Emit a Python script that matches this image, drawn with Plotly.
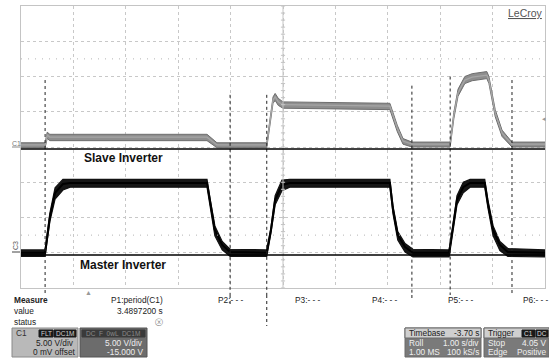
import plotly.graph_objects as go

W, H = 549, 358
# grid area in pixels
GX0, GX1, GY0, GY1 = 21, 545, 6, 288

# ---- data (time in s, voltage in V) ----
slave_t = [0.0, 0.46, 0.50, 0.55, 3.55, 3.65, 3.74, 4.69, 4.75, 4.81, 4.85, 4.91, 5.00,
           7.04, 7.18, 7.29, 7.46, 8.19, 8.26, 8.34, 8.47, 8.61, 8.89, 8.93, 9.05, 9.18, 9.37, 10.0]
slave_v = [0.3, 0.3, 1.7, 1.4, 1.4, 0.85, 0.3, 0.3, 3.8, 6.7, 7.1, 6.4, 6.0,
           5.8, 2.7, 0.85, 0.4, 0.4, 4.5, 7.7, 9.5, 9.9, 10.2, 9.5, 4.8, 2.0, 0.4, 0.4]
slave_hi = [0.6, 0.6, 2.1, 1.8, 1.8, 1.2, 0.6, 0.6, 4.2, 7.1, 7.6, 6.9, 6.4,
            6.2, 3.1, 1.2, 0.7, 0.7, 4.9, 8.2, 10.0, 10.4, 10.7, 10.0, 5.3, 2.4, 0.7, 0.7]
slave_lo = [-0.1, -0.1, 1.2, 0.9, 0.9, 0.4, -0.1, -0.1, 3.3, 6.2, 6.6, 5.9, 5.5,
            5.3, 2.2, 0.4, 0.0, 0.0, 4.0, 7.2, 9.0, 9.4, 9.7, 9.0, 4.3, 1.5, 0.0, 0.0]

master_t = [0.0, 0.46, 0.55, 0.65, 0.80, 0.94, 3.55, 3.61, 3.70, 3.84, 3.99, 4.69, 4.77, 4.85,
            4.98, 5.13, 7.04, 7.10, 7.19, 7.33, 7.48, 8.17, 8.23, 8.32, 8.44, 8.57, 8.85, 8.91,
            9.01, 9.14, 9.29, 10.0]
master_v = [0.0, 0.0, 5.0, 8.5, 9.75, 9.9, 9.9, 7.0, 3.2, 1.1, 0.1, 0.0, 3.2, 7.5,
            9.6, 9.9, 9.9, 6.1, 2.5, 0.8, 0.0, 0.0, 2.8, 7.5, 9.3, 9.9, 9.9, 7.0,
            3.2, 1.1, 0.1, 0.0]
master_hi = [0.4, 0.4, 5.6, 9.2, 10.4, 10.4, 10.4, 7.6, 3.8, 1.6, 0.5, 0.4, 3.6, 8.1,
             10.3, 10.4, 10.4, 6.6, 3.0, 1.3, 0.5, 0.4, 3.2, 8.1, 10.0, 10.4, 10.4, 7.5,
             3.8, 1.6, 0.6, 0.4]
master_lo = [-0.5, -0.5, 4.4, 7.6, 8.9, 9.3, 9.3, 6.4, 2.4, 0.4, -0.5, -0.5, 2.8, 6.8,
             8.8, 9.3, 9.3, 5.5, 1.8, 0.1, -0.6, -0.6, 2.3, 6.8, 8.5, 9.3, 9.3, 6.4,
             2.4, 0.3, -0.5, -0.6]

cursor_t = [0.46, 3.99, 4.69, 7.46, 8.19, 9.37]
cursor_top_v = [9.5, 7.4, 7.4, 8.7, 10.0, 9.5]

volts_per_div = 5.0
c1_offset = 0.0
c3_offset = -15.0

measure_labels = ["P1:period(C1)", "P2:- - -", "P3:- - -", "P4:- - -", "P5:- - -", "P6:- - -"]
measure_value = "3.4897200 s"


def px(x):
    return x / W


def py(y):
    return 1 - y / H


fig = go.Figure()

# slave (C1) noise band + centre
fig.add_trace(go.Scatter(x=slave_t, y=slave_lo, mode="lines", yaxis="y",
                         line=dict(color="#6e6e6e", width=1), hoverinfo="skip"))
fig.add_trace(go.Scatter(x=slave_t, y=slave_hi, mode="lines", yaxis="y", fill="tonexty",
                         fillcolor="#8e8e8e", line=dict(color="#6e6e6e", width=1),
                         hoverinfo="skip"))
fig.add_trace(go.Scatter(x=slave_t, y=slave_v, mode="lines", yaxis="y",
                         line=dict(color="#a6a6a6", width=1.3), hoverinfo="skip"))
# master (C3) noise band + centre
fig.add_trace(go.Scatter(x=master_t, y=master_lo, mode="lines", yaxis="y2",
                         line=dict(color="#111111", width=1.2), hoverinfo="skip"))
fig.add_trace(go.Scatter(x=master_t, y=master_hi, mode="lines", yaxis="y2", fill="tonexty",
                         fillcolor="#161616", line=dict(color="#111111", width=1.2),
                         hoverinfo="skip"))
fig.add_trace(go.Scatter(x=master_t, y=master_v, mode="lines", yaxis="y2",
                         line=dict(color="#000000", width=2), hoverinfo="skip"))

span = 4 * volts_per_div
shapes = []
# dotted marker rows
for v in (12.5, -12.5):
    shapes.append(dict(type="line", xref="x", yref="y", x0=0, x1=10, y0=v, y1=v,
                       line=dict(color="#b4b4b4", width=1, dash="1px,6px")))
# center vertical axis with ticks
shapes.append(dict(type="line", xref="x", yref="y", x0=5, x1=5, y0=-span, y1=span,
                   line=dict(color="#c4c4c4", width=1)))
for i in range(41):
    v = -span + i * 1.0
    shapes.append(dict(type="line", xref="x", yref="y", x0=4.96, x1=5.04, y0=v, y1=v,
                       line=dict(color="#c4c4c4", width=1)))
# cursors
for t, vt in zip(cursor_t, cursor_top_v):
    shapes.append(dict(type="line", xref="x", yref="paper", x0=t, x1=t,
                       y0=py(GY0 + (span - vt) / (2 * span) * (GY1 - GY0)), y1=py(295),
                       line=dict(color="#222222", width=1, dash="dot")))
# extra cursor tails into the measure area
shapes.append(dict(type="line", xref="x", yref="paper", x0=cursor_t[2], x1=cursor_t[2],
                   y0=py(295), y1=py(326), line=dict(color="#222222", width=1, dash="dot")))
shapes.append(dict(type="line", xref="x", yref="paper", x0=cursor_t[1], x1=cursor_t[1],
                   y0=py(295), y1=py(305), line=dict(color="#222222", width=1, dash="dot")))
shapes.append(dict(type="line", xref="x", yref="paper", x0=cursor_t[3], x1=cursor_t[3],
                   y0=py(295), y1=py(299), line=dict(color="#222222", width=1, dash="dot")))
# annotation baselines
shapes.append(dict(type="line", xref="paper", yref="paper", x0=px(21), x1=px(545),
                   y0=py(149), y1=py(149), line=dict(color="#000000", width=1.5)))
shapes.append(dict(type="line", xref="paper", yref="paper", x0=px(21), x1=px(545),
                   y0=py(255), y1=py(255), line=dict(color="#000000", width=1.5)))
# channel ground ticks
shapes.append(dict(type="line", xref="paper", yref="paper", x0=px(12), x1=px(20),
                   y0=py(147), y1=py(147), line=dict(color="#888888", width=1)))
shapes.append(dict(type="line", xref="paper", yref="paper", x0=px(12), x1=px(20),
                   y0=py(252), y1=py(252), line=dict(color="#444444", width=1)))


def box(x0, y0, x1, y1, fill, line="#8a8a8a"):
    shapes.append(dict(type="rect", xref="paper", yref="paper", x0=px(x0), x1=px(x1),
                       y0=py(y1), y1=py(y0), fillcolor=fill, line=dict(color=line, width=1),
                       layer="below"))


# channel boxes
box(12, 328, 78, 357, "#b9b9b9")
box(80, 328, 147, 357, "#6c6c6c", "#555555")
# badges
box(39, 330, 53, 337, "#1a1a1a", "#1a1a1a")
box(54, 330, 76, 337, "#1a1a1a", "#1a1a1a")
box(82, 330, 145, 337, "#3a3a3a", "#3a3a3a")
# timebase / trigger boxes
box(405, 328, 481, 357, "#7a7a7a", "#6a6a6a")
box(405, 328, 481, 338, "#cfcfcf", "#6a6a6a")
box(484, 328, 549, 357, "#7a7a7a", "#6a6a6a")
box(484, 328, 549, 338, "#cfcfcf", "#6a6a6a")
box(522, 330, 535, 337, "#1a1a1a", "#1a1a1a")
box(536, 330, 548, 337, "#1a1a1a", "#1a1a1a")

ann = []
FONT = "Liberation Sans, Arial, sans-serif"


def text(x, y, s, size=8.3, color="#222222", anchor="left", bold=False, angle=0):
    if bold:
        s = "<b>" + s + "</b>"
    ann.append(dict(x=px(x), y=py(y), xref="paper", yref="paper", text=s, showarrow=False,
                    xanchor=anchor, yanchor="middle", textangle=angle,
                    font=dict(family=FONT, size=size, color=color)))


text(545, 13, "<u>LeCroy</u>", size=10.5, color="#555555", anchor="right")
text(10, 143, "C1", size=7, color="#777777")
text(15, 246, "C3", size=7, color="#555555", angle=-90, anchor="center")
text(123, 158, "Slave Inverter", size=12, color="#111111", anchor="center", bold=True)
text(123, 265, "Master Inverter", size=12, color="#111111", anchor="center", bold=True)
text(88, 292, "▲", size=7, color="#999999", anchor="center")
text(548, 118, "◂", size=7, color="#999999", anchor="right")

text(12, 300, "Measure", bold=True)
meas_x = [165, 216, 293, 370, 446, 521]
for i, (lab, mx) in enumerate(zip(measure_labels, meas_x)):
    text(mx, 300, lab, anchor="right" if i == 0 else "left")
text(12, 311, "value")
text(165, 311, measure_value, anchor="right")
text(12, 322, "status")
text(159, 322, "ⓧ", size=8, color="#777777", anchor="center")

# C1 box text
text(14, 333, "C1", color="#333333")
text(46, 333.5, "FLT", size=6.5, color="#d0d0d0", anchor="center")
text(65, 333.5, "DC1M", size=6.5, color="#d0d0d0", anchor="center")
text(76, 343, "5.00 V/div", color="#222222", anchor="right")
text(78, 352, "0 mV offset", color="#222222", anchor="right")
# C3 box text
text(113, 333.5, "DC  F  0wL  DC1M", size=6.5, color="#8a8a8a", anchor="center")
text(145, 343, "5.00 V/div", color="#eeeeee", anchor="right")
text(145, 352, "-15.000 V", color="#eeeeee", anchor="right")
# Timebase
text(407, 333, "Timebase", color="#222222")
text(481, 333, "-3.70 s", color="#222222", anchor="right")
text(407, 343, "Roll", color="#f0f0f0")
text(481, 343, "1.00 s/div", color="#f0f0f0", anchor="right")
text(407, 352, "1.00 MS", color="#f0f0f0")
text(481, 352, "100 kS/s", color="#f0f0f0", anchor="right")
# Trigger
text(486, 333, "Trigger", color="#222222")
text(528.5, 333.5, "C1", size=6.5, color="#dddddd", anchor="center")
text(542, 333.5, "DC", size=6.5, color="#dddddd", anchor="center")
text(486, 343, "Stop", color="#f0f0f0")
text(548, 343, "4.05 V", color="#f0f0f0", anchor="right")
text(486, 352, "Edge", color="#f0f0f0")
text(548, 352, "Positive", color="#f0f0f0", anchor="right")

ydom = [py(GY1), py(GY0)]
fig.update_layout(
    width=W, height=H, margin=dict(l=0, r=0, t=0, b=0),
    paper_bgcolor="white", plot_bgcolor="white", showlegend=False,
    xaxis=dict(domain=[px(GX0), px(GX1)], range=[0, 10], dtick=1, showgrid=True,
               gridcolor="#c8c8c8", griddash="dot", gridwidth=1, showticklabels=False,
               ticks="", zeroline=False, showline=True, linecolor="#c4c4c4", mirror=True,
               fixedrange=True),
    yaxis=dict(domain=ydom, range=[c1_offset - span, c1_offset + span], dtick=volts_per_div,
               showgrid=True, gridcolor="#c8c8c8", griddash="dot", gridwidth=1,
               showticklabels=False, ticks="", zeroline=False, showline=True,
               linecolor="#c4c4c4", mirror=True, fixedrange=True),
    yaxis2=dict(domain=ydom, range=[-c3_offset - span, -c3_offset + span], overlaying="y",
                showgrid=False, showticklabels=False, ticks="", zeroline=False,
                showline=False, fixedrange=True),
    shapes=shapes, annotations=ann,
)

fig.write_html("out.html", config={"displayModeBar": False},
               post_script="document.body.style.margin='0';document.body.style.overflow='hidden';")
